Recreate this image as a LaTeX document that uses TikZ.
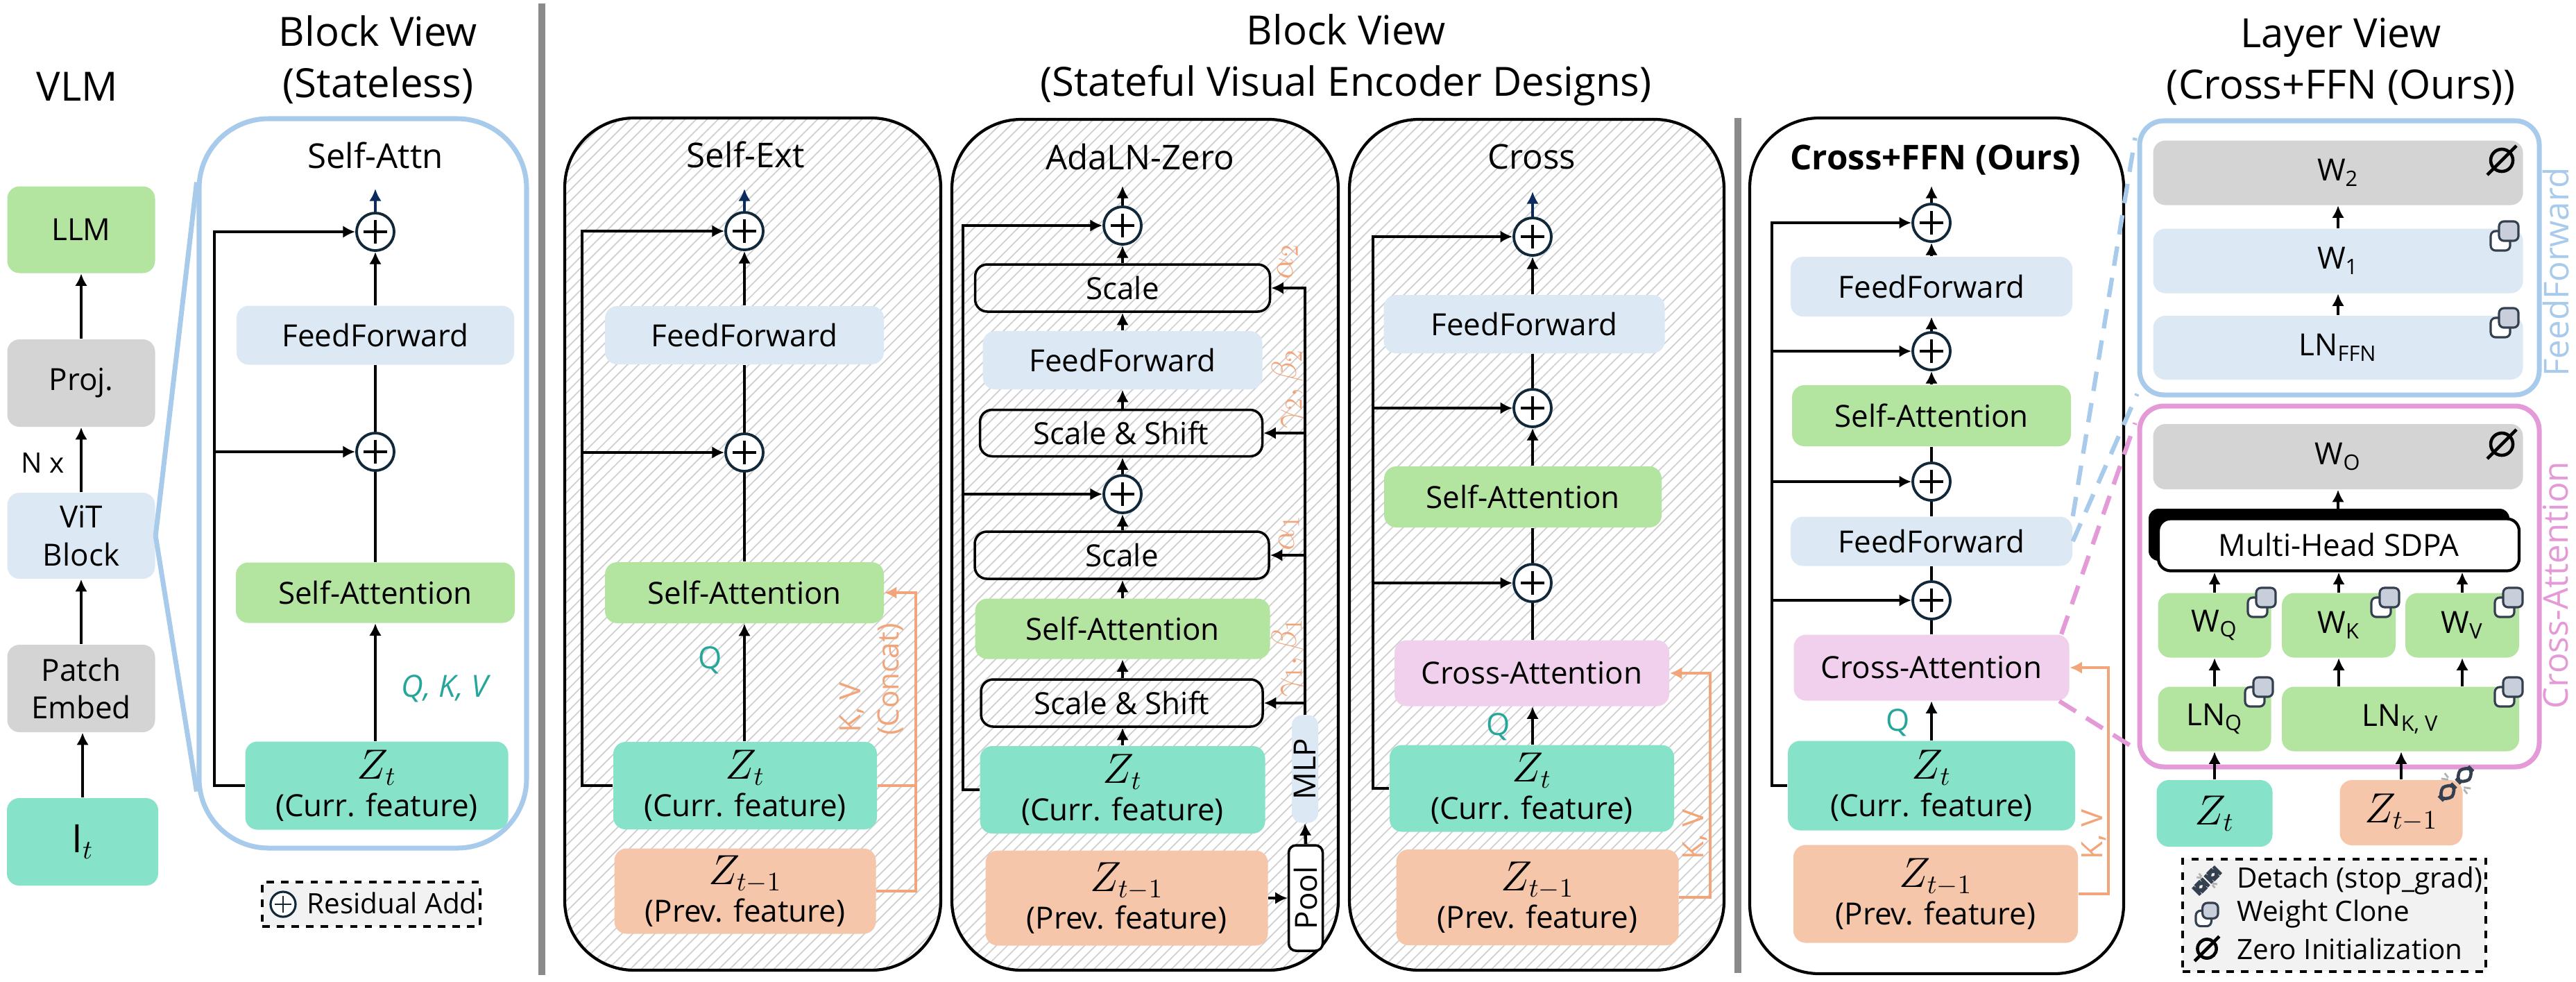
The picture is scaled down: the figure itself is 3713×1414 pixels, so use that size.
\documentclass[tikz,border=0pt]{standalone}
\usepackage{fontspec}
\setmainfont{Open Sans}
\usetikzlibrary{arrows.meta,patterns.meta,calc}
\definecolor{cgr}{HTML}{B3E5A0}
\definecolor{cff}{HTML}{DCE9F5}
\definecolor{cgy}{HTML}{D4D4D4}
\definecolor{czt}{HTML}{86E2C8}
\definecolor{czp}{HTML}{F5C6AA}
\definecolor{cca}{HTML}{F0D0EC}
\definecolor{orl}{HTML}{F2A57A}
\definecolor{tq}{HTML}{26A69A}
\definecolor{bpan}{HTML}{A9CBEB}
\definecolor{ppan}{HTML}{E59AD8}
\definecolor{dblue}{HTML}{0B2A5E}
\definecolor{pcir}{HTML}{10283A}
\definecolor{sepg}{HTML}{8A8A8A}
\definecolor{hatch}{HTML}{CFCFCF}
\definecolor{icon}{HTML}{C8CFDB}
\definecolor{icond}{HTML}{34404F}
\newcommand{\zz}[1]{{\fontsize{16}{16}\selectfont$#1$}}
\begin{document}
\begin{tikzpicture}[x=0.01cm,y=-0.01cm,
  ttl/.style={font=\fontsize{16.5}{21}\selectfont, align=center},
  ptl/.style={font=\fontsize{14}{17}\selectfont},
  bx/.style={rounded corners=5pt, inner sep=0pt, align=center, font=\fontsize{12.5}{15.5}\selectfont},
  sz/.style 2 args={minimum width=#1*0.01cm, minimum height=#2*0.01cm},
  lbl/.style={font=\fontsize{11.5}{13}\selectfont},
  glbl/.style={rotate=90, text=orl, font=\fontsize{14}{16}\selectfont},
  plus/.style={circle, draw=pcir, line width=1.1pt, fill=white, minimum size=0.54cm, inner sep=0pt,
    path picture={\draw[line width=1pt,black] ([xshift=-0.17cm]path picture bounding box.center) -- ([xshift=0.17cm]path picture bounding box.center);
      \draw[line width=1pt,black] ([yshift=-0.17cm]path picture bounding box.center) -- ([yshift=0.17cm]path picture bounding box.center);}},
  ln/.style={line width=1.3pt},
  ar/.style={line width=1.3pt, -{Latex[length=5pt,width=5pt]}},
  oar/.style={line width=1.2pt, draw=orl, -{Latex[length=5pt,width=5pt]}},
  oln/.style={line width=1.2pt, draw=orl},
  hpanel/.style={draw=black, line width=1.2pt, rounded corners=1cm, pattern={Lines[angle=45,distance=3.2pt,line width=0.5pt]}, pattern color=hatch},
  clone/.pic={\draw[icond, fill=white, line width=0.9pt, rounded corners=2pt] (-20,-6) rectangle (8,22);
     \draw[icond, fill=icon, line width=0.9pt, rounded corners=2pt] (-8,-20) rectangle (20,8);},
  zero/.pic={\draw[line width=1.3pt] (0,0) circle (0.16cm); \draw[line width=1.3pt] (-21,21) -- (21,-21);},
  detach/.pic={\begin{scope}[rotate=45]
     \draw[icond, line width=1.3pt, rounded corners=4pt] (-30,-9) rectangle (-5,9);
     \draw[icond, line width=1.3pt, rounded corners=4pt] (5,-9) rectangle (30,9);
     \draw[gray!60, line width=0.8pt] (-2,-14) -- (-1,-22) (2,14) -- (1,22) (-4,-12) -- (-10,-20) (4,12) -- (10,20);
     \end{scope}}
]
\useasboundingbox (0,0) rectangle (3713,1414);

% ---------------- titles
\node[ttl] (tvlm) at (111,125) {VLM};
\node[ttl] (tstl) at (545,86) {Block View\\(Stateless)};
\node[ttl] (tstf) at (1940,86) {Block View\\(Stateful Visual Encoder Designs)};
\node[ttl] (tlay) at (3374,89) {Layer View\\(Cross+FFN (Ours))};

% ---------------- separators
\draw[sepg, line width=2.6pt] (781,5) -- (781,1405);
\draw[sepg, line width=2.6pt] (2505,170) -- (2505,1402);

% ---------------- VLM column
\node[bx, fill=cgr, sz={213}{125}] (llm) at (117,331) {LLM};
\node[bx, fill=cgy, sz={213}{126}] (proj) at (117,552) {Proj.};
\node[bx, fill=cff, sz={213}{124}] (vit) at (117,772) {ViT\\Block};
\node[bx, fill=cgy, sz={213}{126}] (pe) at (117,992) {Patch\\Embed};
\node[bx, fill=czt, sz={218}{126}] (it) at (119,1213) {\zz{\mathrm{I}_t}};
\draw[ar] (it.north) -- (it.north |- pe.south);
\draw[ar] (pe.north) -- (pe.north |- vit.south);
\draw[ar] (vit.north) -- (vit.north |- proj.south);
\draw[ar] (proj.north) -- (proj.north |- llm.south);
\node[lbl] (nx) at (62,667) {N x};

% ---------------- Self-Attn panel
\node[draw=bpan, line width=2pt, rounded corners=1cm, fill=white, sz={472}{1051}, inner sep=0pt] (sap) at (523,696.5) {};
\draw[bpan, line width=2pt] (vit.east) -- ($(sap.north west)+(0,95)$);
\draw[bpan, line width=2pt] (vit.east) -- ($(sap.south west)+(0,-85)$);
\node[ptl] (tsa) at (541,224) {Self-Attn};
\node[plus] (a1) at (541,334) {};
\node[plus] (a2) at (541,651) {};
\node[bx, fill=cff, sz={400}{85}] (aff) at (541,483) {FeedForward};
\node[bx, fill=cgr, sz={402}{87}] (asa) at (541,854) {Self-Attention};
\node[bx, fill=czt, sz={379}{127}] (azt) at (543,1132) {\zz{Z_t}\\(Curr. feature)};
\coordinate (ak) at (309,0);
\draw[ar] (azt.west) -- (ak |- azt.west) |- (a1.west);
\draw[ar] (ak |- a2.west) -- (a2.west);
\draw[ar] (a1.south |- azt.north) -- (asa.south -| a1.south);
\draw[ln] (asa.north -| a1.south) -- (a2.south);
\draw[ln] (a2.north) -- (aff.south -| a2.north);
\draw[ar] (aff.north -| a1.south) -- (a1.south);
\coordinate (aout) at (541,272);
\draw[ar, dblue] (a1.north) -- (aout);
\node[tq, font=\itshape\fontsize{12.5}{15}\selectfont] (aq) at (641,992) {Q, K, V};
% legend
\node[draw, dashed, line width=1pt, fill=gray!10, sz={314}{64}, inner sep=0pt] (rleg) at (535,1303) {};
\node[plus, minimum size=0.36cm, line width=0.9pt, path picture={\draw[line width=0.8pt] ([xshift=-0.12cm]path picture bounding box.center) -- ([xshift=0.12cm]path picture bounding box.center); \draw[line width=0.8pt] ([yshift=-0.12cm]path picture bounding box.center) -- ([yshift=0.12cm]path picture bounding box.center);}] (rlp) at (408,1303) {};
\node[lbl, anchor=west] (rlt) at (430,1301) {Residual Add};

% ---------------- Self-Ext panel
\node[hpanel, sz={542}{1228}, inner sep=0pt] (sep) at (1085,784) {};
\node[ptl] (tse) at (1075,223) {Self-Ext};
\node[plus] (b1) at (1073,333) {};
\node[plus] (b2) at (1073,652) {};
\node[bx, fill=cff, sz={402}{84}] (bff) at (1073,483) {FeedForward};
\node[bx, fill=cgr, sz={402}{88}] (bsa) at (1073,854) {Self-Attention};
\node[bx, fill=czt, sz={380}{126}] (bzt) at (1074,1132) {\zz{Z_t}\\(Curr. feature)};
\node[bx, fill=czp, sz={377}{123}] (bzp) at (1074,1284) {\zz{Z_{t-1}}\\(Prev. feature)};
\coordinate (bk) at (839,0);
\draw[ar] (bzt.west) -- (bk |- bzt.west) |- (b1.west);
\draw[ar] (bk |- b2.west) -- (b2.west);
\draw[ar] (b1.south |- bzt.north) -- (bsa.south -| b1.south);
\draw[ln] (bsa.north -| b1.south) -- (b2.south);
\draw[ln] (b2.north) -- (bff.south -| b2.north);
\draw[ar] (bff.north -| b1.south) -- (b1.south);
\coordinate (bout) at (1073,272);
\draw[ar, dblue] (b1.north) -- (bout);
\node[tq, font=\fontsize{12.5}{15}\selectfont] (bq) at (1024,951) {Q};
\coordinate (bo) at (1320,0);
\draw[oln] (bzt.east) -- (bo |- bzt.east);
\draw[oar] (bzp.east) -- (bo |- bzp.east) |- (bsa.east);
\node[rotate=90, text=orl, font=\fontsize{12}{14}\selectfont] (bkv) at (1228,1019) {K, V};
\node[rotate=90, text=orl, font=\fontsize{12}{14}\selectfont] (bcc) at (1284,979) {(Concat)};

% ---------------- AdaLN panel
\node[hpanel, sz={557}{1226}, inner sep=0pt] (adp) at (1650.5,785) {};
\node[ptl] (tad) at (1643,226) {AdaLN-Zero};
\node[plus] (c1) at (1618,325) {};
\node[plus] (c2) at (1618,712) {};
\node[bx, draw, line width=1pt, sz={425}{68}] (cst) at (1618,415) {Scale};
\node[bx, fill=cff, sz={403}{84}] (cff) at (1618,519) {FeedForward};
\node[bx, draw, line width=1pt, sz={407}{67}] (css2) at (1616,624) {Scale \& Shift};
\node[bx, draw, line width=1pt, sz={424}{68}] (cs1) at (1617,800) {Scale};
\node[bx, fill=cgr, sz={425}{87}] (csa) at (1618,906) {Self-Attention};
\node[bx, draw, line width=1pt, sz={406}{68}] (css1) at (1617,1013) {Scale \& Shift};
\node[bx, fill=czt, sz={411}{126}] (czt) at (1618,1138) {\zz{Z_t}\\(Curr. feature)};
\node[bx, fill=czp, sz={407}{137}] (czp) at (1624,1294) {\zz{Z_{t-1}}\\(Prev. feature)};
\node[bx, draw, line width=1pt, fill=white, rounded corners=3pt, sz={49}{152}] (pool) at (1882,1294) {};
\node[rotate=90, font=\fontsize{12.5}{15}\selectfont] (poolt) at (pool) {Pool};
\node[bx, fill=cff, rounded corners=4pt, sz={38}{155}] (mlp) at (1881,1108) {};
\node[rotate=90, font=\fontsize{12.5}{15}\selectfont] (mlpt) at (mlp) {MLP};
\draw[ar] (czp.east |- pool.west) -- (pool.west);
\draw[ar] (pool.north) -- (mlp.south);
\draw[ar] (mlp.north) -- (mlp.north |- cst.east) -- (cst.east);
\draw[ar] (mlp.north |- css2.east) -- (css2.east);
\draw[ar] (mlp.north |- cs1.east) -- (cs1.east);
\draw[ar] (mlp.north |- css1.east) -- (css1.east);
\coordinate (ck) at (1388,0);
\draw[ar] (czt.west) -- (ck |- czt.west) |- (c1.west);
\draw[ar] (ck |- c2.west) -- (c2.west);
\draw[ar] (c1.south |- czt.north) -- (css1.south -| c1.south);
\draw[ar] (c1.south |- css1.north) -- (csa.south -| c1.south);
\draw[ar] (c1.south |- csa.north) -- (cs1.south -| c1.south);
\draw[ar] (c1.south |- cs1.north) -- (c2.south);
\draw[ar] (c2.north) -- (css2.south -| c2.north);
\draw[ar] (c1.south |- css2.north) -- (cff.south -| c1.south);
\draw[ar] (c1.south |- cff.north) -- (cst.south -| c1.south);
\draw[ar] (c1.south |- cst.north) -- (c1.south);
\coordinate (cout) at (1618,268);
\draw[ar] (c1.north) -- (cout);
\node[glbl] (ga2) at (1856,377) {$\alpha_2$};
\node[glbl] (gb2) at (1856,560) {$\gamma_2,\beta_2$};
\node[glbl] (ga1) at (1858,768) {$\alpha_1$};
\node[glbl] (gb1) at (1856,947) {$\gamma_1,\beta_1$};

% ---------------- Cross panel
\node[hpanel, sz={540}{1226}, inner sep=0pt] (crp) at (2215,785) {};
\node[ptl] (tcr) at (2208,226) {Cross};
\node[plus] (d1) at (2209,341) {};
\node[plus] (d2) at (2209,588) {};
\node[plus] (d3) at (2209,840) {};
\node[bx, fill=cff, sz={405}{84}] (dff) at (2197,467) {FeedForward};
\node[bx, fill=cgr, sz={400}{88}] (dsa) at (2195,716) {Self-Attention};
\node[bx, fill=cca, sz={396}{95}] (dca) at (2208,970) {Cross-Attention};
\node[bx, fill=czt, sz={410}{125}] (dzt) at (2208,1136) {\zz{Z_t}\\(Curr. feature)};
\node[bx, fill=czp, sz={407}{138}] (dzp) at (2216,1293) {\zz{Z_{t-1}}\\(Prev. feature)};
\coordinate (dk) at (1979,0);
\draw[ar] (dzt.west) -- (dk |- dzt.west) |- (d1.west);
\draw[ar] (dk |- d2.west) -- (d2.west);
\draw[ar] (dk |- d3.west) -- (d3.west);
\draw[ar] (d1.south |- dzt.north) -- (dca.south -| d1.south);
\draw[ln] (dca.north -| d1.south) -- (d3.south);
\draw[ln] (d3.north) -- (dsa.south -| d3.north);
\draw[ar] (dsa.north -| d1.south) -- (d2.south);
\draw[ln] (d2.north) -- (dff.south -| d2.north);
\draw[ar] (dff.north -| d1.south) -- (d1.south);
\coordinate (dout) at (2209,276);
\draw[ar, dblue] (d1.north) -- (dout);
\node[tq, font=\fontsize{12.5}{15}\selectfont] (dq) at (2160,1047) {Q};
\coordinate (do) at (2465,0);
\draw[oar] (dzp.east) -- (do |- dzp.east) |- (dca.east);
\node[rotate=90, text=orl, font=\fontsize{12}{14}\selectfont] (dkv) at (2443,1202) {K, V};

% ---------------- Cross+FFN panel
\node[draw, line width=1.2pt, rounded corners=1cm, fill=white, sz={539}{1233}, inner sep=0pt] (ofp) at (2791.5,786.5) {};
\node[ptl, font=\bfseries\fontsize{14}{17}\selectfont] (tof) at (2790,231) {Cross+FFN (Ours)};
\node[plus] (e1) at (2784,321) {};
\node[plus] (e2) at (2784,506) {};
\node[plus] (e3) at (2784,694) {};
\node[plus] (e4) at (2784,865) {};
\node[bx, fill=cff, sz={406}{86}] (eff1) at (2784,413) {FeedForward};
\node[bx, fill=cgr, sz={402}{88}] (esa) at (2784,599) {Self-Attention};
\node[bx, fill=cff, sz={406}{71}] (eff2) at (2784,780) {FeedForward};
\node[bx, fill=cca, sz={397}{95}] (eca) at (2784,962) {Cross-Attention};
\node[bx, fill=czt, sz={414}{129}] (ezt) at (2784,1132) {\zz{Z_t}\\(Curr. feature)};
\node[bx, fill=czp, sz={410}{141}] (ezp) at (2790,1288) {\zz{Z_{t-1}}\\(Prev. feature)};
\coordinate (ek) at (2554,0);
\draw[ar] (ezt.west) -- (ek |- ezt.west) |- (e1.west);
\draw[ar] (ek |- e2.west) -- (e2.west);
\draw[ar] (ek |- e3.west) -- (e3.west);
\draw[ar] (ek |- e4.west) -- (e4.west);
\draw[ar] (ezt.north) -- (eca.south);
\draw[ln] (eca.north) -- (e4.south);
\draw[ln] (e4.north) -- (eff2.south);
\draw[ln] (eff2.north) -- (e3.south);
\draw[ln] (e3.north) -- (esa.south);
\draw[ar] (esa.north) -- (e2.south);
\draw[ar] (e2.north) -- (eff1.south);
\draw[ar] (eff1.north) -- (e1.south);
\coordinate (eout) at (2784,268);
\draw[ar] (e1.north) -- (eout);
\node[tq, font=\fontsize{12.5}{15}\selectfont] (eq) at (2736,1041) {Q};
\coordinate (eo) at (3039,0);
\draw[oar] (ezp.east) -- (eo |- ezp.east) |- (eca.east);
\node[rotate=90, text=orl, font=\fontsize{12}{14}\selectfont] (ekv) at (3018,1202) {K, V};

% ---------------- FeedForward layer panel
\node[draw=bpan, line width=2pt, rounded corners=0.35cm, fill=white, sz={576}{395}, inner sep=0pt] (ffp) at (3372,371.5) {};
\node[bx, fill=cgy, sz={533}{93}] (w2) at (3370,249) {W\textsubscript{2}};
\node[bx, fill=cff, sz={533}{93}] (w1) at (3370,376) {W\textsubscript{1}};
\node[bx, fill=cff, sz={533}{92}] (lnf) at (3370,501) {LN\textsubscript{FFN}};
\draw[ar] (lnf.north) -- (w1.south);
\draw[ar] (w1.north) -- (w2.south);
\pic at (3606,231) {zero};
\pic at (3610,339) {clone};
\pic at (3610,464) {clone};
\node[rotate=90, text=bpan, font=\fontsize{14}{17}\selectfont] (ffl) at (3684,392) {FeedForward};

% ---------------- Cross-Attention layer panel
\node[draw=ppan, line width=2pt, rounded corners=0.35cm, fill=white, sz={576}{520}, inner sep=0pt] (cap) at (3372,845) {};
\node[bx, fill=cgy, sz={533}{94}] (wo) at (3370,658) {W\textsubscript{O}};
\fill[black, rounded corners=4pt] (3097,733) rectangle (3617,808);
\node[bx, draw, line width=1.2pt, fill=white, sz={520}{75}] (sdpa) at (3371,785) {Multi-Head SDPA};
\node[bx, fill=cgr, sz={163}{93}] (wq) at (3192,901) {W\textsubscript{Q}};
\node[bx, fill=cgr, sz={164}{93}] (wk) at (3371,901) {W\textsubscript{K}};
\node[bx, fill=cgr, sz={164}{93}] (wv) at (3549,901) {W\textsubscript{V}};
\node[bx, fill=cgr, sz={163}{93}] (lnq) at (3192,1036) {LN\textsubscript{Q}};
\node[bx, fill=cgr, sz={342}{93}] (lnkv) at (3460,1036) {LN\textsubscript{K, V}};
\draw[ar] (sdpa.north -| wo.south) -- (wo.south);
\draw[ar] (wq.north) -- (wq.north |- sdpa.south);
\draw[ar] (wk.north) -- (wk.north |- sdpa.south);
\draw[ar] (wv.north) -- (wv.north |- sdpa.south);
\draw[ar] (lnq.north) -- (wq.south);
\draw[ar] (wk.south |- lnkv.north) -- (wk.south);
\draw[ar] (wv.south |- lnkv.north) -- (wv.south);
\node[bx, fill=czt, sz={167}{96}] (szt) at (3192,1172) {\zz{Z_t}};
\node[bx, fill=czp, sz={177}{94}] (szp) at (3461,1171) {\zz{Z_{t-1}}};
\draw[ar] (szt.north) -- (lnq.south);
\draw[ar] (szp.north) -- (szp.north |- lnkv.south);
\pic at (3606,640) {zero};
\pic at (3260,867) {clone};
\pic at (3438,867) {clone};
\pic at (3616,867) {clone};
\pic at (3256,996) {clone};
\pic at (3616,996) {clone};
\pic at (3540,1129) {detach};
\node[rotate=90, text=ppan, font=\fontsize{14}{17}\selectfont] (cal) at (3684,843) {Cross-Attention};

% dashed zoom connectors
\draw[bpan, line width=1.8pt, dash pattern=on 8pt off 5pt] (eff2.north east) -- ($(ffp.north west)+(-3,28)$);
\draw[bpan, line width=1.8pt, dash pattern=on 8pt off 5pt] (eff2.east) -- ($(ffp.south west)+(0,-5)$);
\draw[ppan, line width=1.8pt, dash pattern=on 8pt off 5pt] ($(eca.north east)+(-12,0)$) -- ($(cap.north west)+(-3,28)$);
\draw[ppan, line width=1.8pt, dash pattern=on 8pt off 5pt] ($(eca.south east)+(-15,0)$) -- ($(cap.south west)+(0,-28)$);

% legend
\node[draw, dashed, line width=1pt, fill=gray!10, sz={437}{162}, inner sep=0pt] (lg) at (3364.5,1319) {};
\pic[scale=0.7] at (3181,1269) {detach};
\pic[scale=0.8] at (3181,1317) {clone};
\pic[scale=0.85] at (3181,1367) {zero};
\node[lbl, anchor=west] (lg1) at (3212,1269) {Detach (stop\_grad)};
\node[lbl, anchor=west] (lg2) at (3212,1317) {Weight Clone};
\node[lbl, anchor=west] (lg3) at (3212,1367) {Zero Initialization};
\end{tikzpicture}
\end{document}
